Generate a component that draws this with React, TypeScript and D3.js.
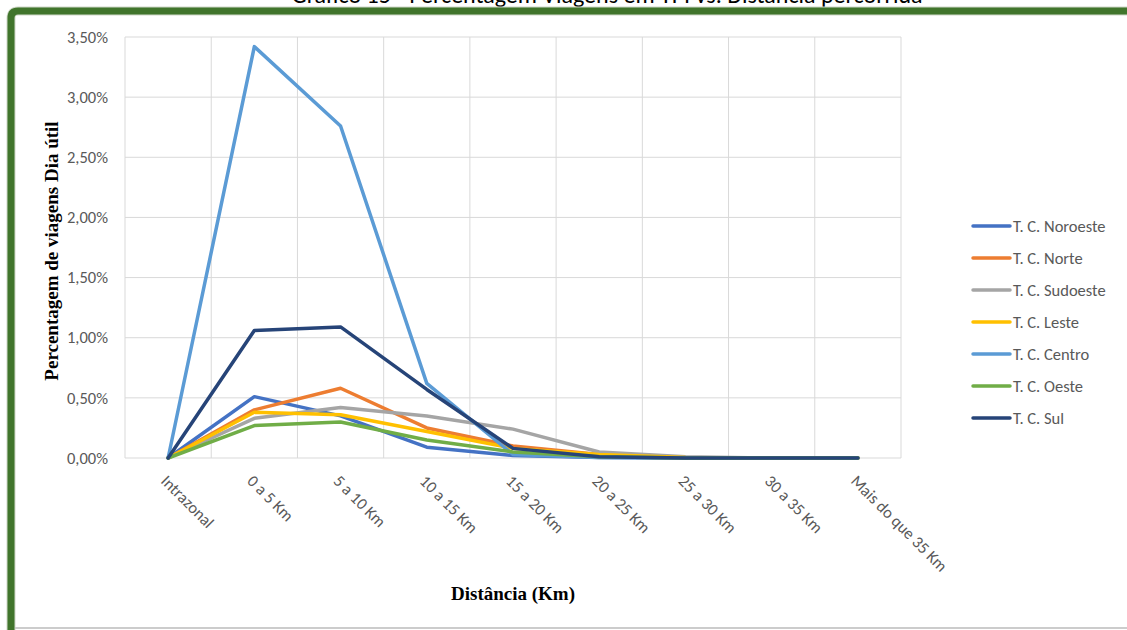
import React from "react";
import * as d3 from "d3";

// Distance classes (x axis)
const categories = [
  "Intrazonal",
  "0 a 5 Km",
  "5 a 10 Km",
  "10 a 15 Km",
  "15 a 20 Km",
  "20 a 25 Km",
  "25 a 30 Km",
  "30 a 35 Km",
  "Mais do que 35 Km",
];

// Series values in percent
const noroeste = [0, 0.51, 0.35, 0.09, 0.02, 0.005, 0, 0, 0];
const norte = [0, 0.4, 0.58, 0.25, 0.1, 0.03, 0.005, 0, 0];
const sudoeste = [0, 0.33, 0.42, 0.35, 0.24, 0.05, 0.01, 0, 0];
const leste = [0, 0.38, 0.36, 0.22, 0.08, 0.03, 0.005, 0, 0];
const centro = [0, 3.42, 2.76, 0.62, 0.03, 0.005, 0, 0, 0];
const oeste = [0, 0.27, 0.3, 0.15, 0.05, 0.01, 0, 0, 0];
const sul = [0, 1.06, 1.09, 0.57, 0.08, 0.01, 0, 0, 0];

const seriesNames = [
  "T. C. Noroeste",
  "T. C. Norte",
  "T. C. Sudoeste",
  "T. C. Leste",
  "T. C. Centro",
  "T. C. Oeste",
  "T. C. Sul",
];
const seriesValues = [noroeste, norte, sudoeste, leste, centro, oeste, sul];
const seriesColors = [
  "#4472c4",
  "#ed7d31",
  "#a5a5a5",
  "#ffc000",
  "#5b9bd5",
  "#70ad47",
  "#264478",
];

const yTicks = [0, 0.5, 1, 1.5, 2, 2.5, 3, 3.5];

const W = 1127;
const H = 630;
const plot = { left: 125, right: 901, top: 37, bottom: 458 };

export default function App() {
  const x = d3
    .scaleBand<string>()
    .domain(categories)
    .range([plot.left, plot.right]);
  const y = d3.scaleLinear().domain([0, 3.5]).range([plot.bottom, plot.top]);
  const fmt = (v: number) => v.toFixed(2).replace(".", ",") + "%";

  const line = d3
    .line<number>()
    .x((_, i) => x(categories[i])! + x.bandwidth() / 2)
    .y((d) => y(d));

  const gridX = categories.map((c) => x(c)!).concat([plot.right]);
  const sans = "Calibri, Carlito, 'Open Sans', sans-serif";
  const serif = "'Liberation Serif', 'Times New Roman', serif";

  return (
    <div style={{ position: "fixed", left: 0, top: 0, width: W, height: H, background: "#fff" }}>
      <svg width={W} height={H} style={{ display: "block" }}>
        <rect x={0} y={0} width={W} height={H} fill="#fff" />

        {/* title, cut off at the top edge as in the source */}
        <text
          x={607}
          y={3}
          textAnchor="middle"
          fontFamily={sans}
          fontSize={24}
          fill="#000"
        >
          Gráfico 15 - Percentagem Viagens em TPI vs. Distância percorrida
        </text>

        {/* green frame */}
        <path
          d={`M 11 ${H + 5} L 11 18 Q 11 11 18 11 L ${W + 5} 11`}
          fill="none"
          stroke="#cfd8c8"
          strokeWidth={9}
        />
        <path
          d={`M 11 ${H + 5} L 11 18 Q 11 11 18 11 L ${W + 5} 11`}
          fill="none"
          stroke="#41752c"
          strokeWidth={7}
        />
        <line x1={15} x2={W} y1={628} y2={628} stroke="#cccccc" strokeWidth={2} />

        {/* gridlines */}
        {yTicks.map((t) => (
          <line
            key={"gy" + t}
            x1={plot.left}
            x2={plot.right}
            y1={y(t)}
            y2={y(t)}
            stroke="#d9d9d9"
            strokeWidth={1}
          />
        ))}
        {gridX.map((gx, i) => (
          <line
            key={"gx" + i}
            x1={gx}
            x2={gx}
            y1={plot.top}
            y2={plot.bottom}
            stroke="#d9d9d9"
            strokeWidth={1}
          />
        ))}

        {/* y tick labels */}
        {yTicks.map((t) => (
          <text
            key={"ty" + t}
            x={108}
            y={y(t)}
            dy="0.35em"
            textAnchor="end"
            fontFamily={sans}
            fontSize={16.5}
            fill="#595959"
          >
            {fmt(t)}
          </text>
        ))}

        {/* x tick labels */}
        {categories.map((c) => {
          const cx = x(c)! + x.bandwidth() / 2 - 8;
          const cy = 482;
          return (
            <text
              key={"tx" + c}
              transform={`translate(${cx},${cy}) rotate(45)`}
              fontFamily={sans}
              fontSize={16.5}
              fill="#595959"
            >
              {c}
            </text>
          );
        })}

        {/* series */}
        {seriesValues.map((vals, i) => (
          <path
            key={"s" + i}
            d={line(vals)!}
            fill="none"
            stroke={seriesColors[i]}
            strokeWidth={3.5}
            strokeLinejoin="round"
            strokeLinecap="round"
          />
        ))}

        {/* axis titles */}
        <text
          transform={`translate(58,251) rotate(-90)`}
          textAnchor="middle"
          fontFamily={serif}
          fontWeight="bold"
          fontSize={19}
          fill="#000"
        >
          Percentagem de viagens Dia útil
        </text>
        <text
          x={513}
          y={600}
          textAnchor="middle"
          fontFamily={serif}
          fontWeight="bold"
          fontSize={19}
          fill="#000"
        >
          Distância (Km)
        </text>

        {/* legend */}
        {seriesNames.map((n, i) => {
          const ly = 226 + i * 32;
          return (
            <g key={"l" + n}>
              <line
                x1={973}
                x2={1010}
                y1={ly}
                y2={ly}
                stroke={seriesColors[i]}
                strokeWidth={3.5}
                strokeLinecap="round"
              />
              <text
                x={1013}
                y={ly}
                dy="0.35em"
                fontFamily={sans}
                fontSize={16.5}
                fill="#595959"
              >
                {n}
              </text>
            </g>
          );
        })}
      </svg>
    </div>
  );
}
